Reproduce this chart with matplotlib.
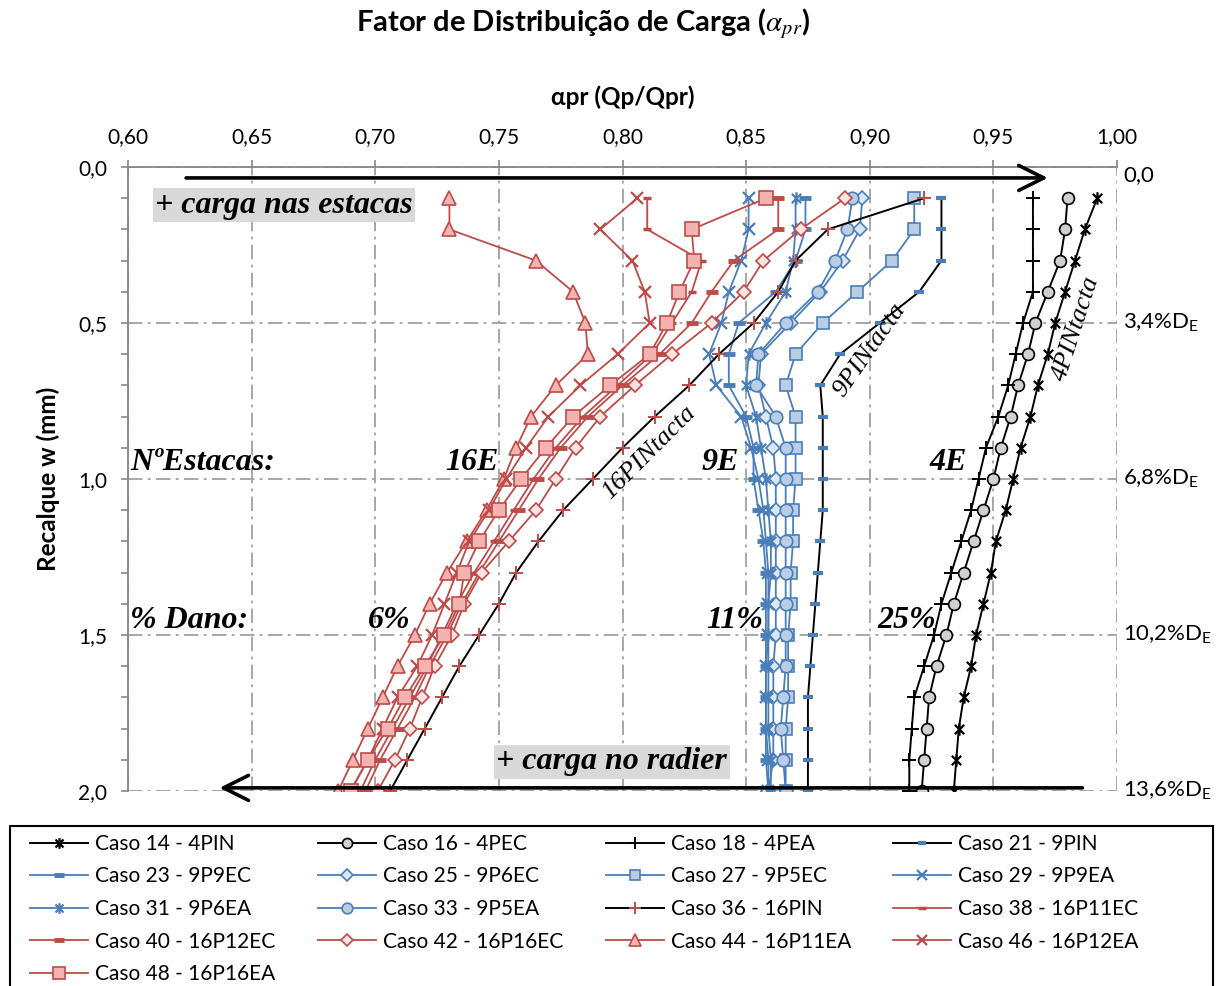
import matplotlib
matplotlib.use('Agg')
import matplotlib.pyplot as plt
from matplotlib.path import Path
from matplotlib.patches import Rectangle
from matplotlib.ticker import FuncFormatter, MultipleLocator

plt.rcParams['font.family'] = ['Lato', 'DejaVu Sans']
plt.rcParams['mathtext.fontset'] = 'stix'

# Recalque w (mm)
recalque = [0.1, 0.2, 0.3, 0.4, 0.5, 0.6, 0.7, 0.8, 0.9, 1.0,
            1.1, 1.2, 1.3, 1.4, 1.5, 1.6, 1.7, 1.8, 1.9, 2.0]

# alpha_pr (Qp/Qpr) por caso
caso14 = [0.992, 0.987, 0.983, 0.979, 0.975, 0.972, 0.968, 0.965, 0.961, 0.958,
          0.955, 0.951, 0.949, 0.946, 0.943, 0.941, 0.938, 0.936, 0.935, 0.934]
caso16 = [0.980, 0.979, 0.977, 0.972, 0.967, 0.964, 0.960, 0.957, 0.953, 0.950,
          0.946, 0.942, 0.938, 0.934, 0.931, 0.927, 0.924, 0.923, 0.922, 0.921]
caso18 = [0.966, 0.966, 0.966, 0.966, 0.962, 0.959, 0.956, 0.952, 0.947, 0.944,
          0.941, 0.937, 0.933, 0.929, 0.926, 0.922, 0.918, 0.917, 0.916, 0.916]
caso21 = [0.929, 0.929, 0.929, 0.920, 0.904, 0.888, 0.880, 0.881, 0.881, 0.881,
          0.881, 0.880, 0.879, 0.878, 0.877, 0.876, 0.875, 0.875, 0.875, 0.875]
caso23 = [0.874, 0.874, 0.870, 0.862, 0.847, 0.843, 0.843, 0.850, 0.853, 0.853,
          0.855, 0.857, 0.858, 0.858, 0.858, 0.858, 0.858, 0.858, 0.858, 0.859]
caso25 = [0.897, 0.896, 0.889, 0.880, 0.868, 0.856, 0.855, 0.858, 0.861, 0.862,
          0.862, 0.862, 0.862, 0.862, 0.862, 0.861, 0.861, 0.861, 0.861, 0.859]
caso27 = [0.918, 0.918, 0.909, 0.895, 0.881, 0.870, 0.866, 0.870, 0.870, 0.870,
          0.869, 0.869, 0.868, 0.868, 0.867, 0.867, 0.867, 0.866, 0.866, 0.866]
caso29 = [0.851, 0.851, 0.848, 0.843, 0.840, 0.835, 0.838, 0.848, 0.852, 0.855,
          0.857, 0.858, 0.859, 0.859, 0.859, 0.858, 0.858, 0.858, 0.859, 0.859]
caso31 = [0.870, 0.870, 0.869, 0.866, 0.858, 0.851, 0.850, 0.854, 0.856, 0.858,
          0.859, 0.860, 0.860, 0.859, 0.859, 0.859, 0.859, 0.859, 0.860, 0.860]
caso33 = [0.893, 0.891, 0.886, 0.879, 0.866, 0.855, 0.854, 0.862, 0.866, 0.866,
          0.866, 0.866, 0.866, 0.866, 0.866, 0.866, 0.865, 0.864, 0.865, 0.866]
caso36 = [0.922, 0.883, 0.870, 0.863, 0.853, 0.839, 0.827, 0.813, 0.800, 0.788,
          0.776, 0.766, 0.757, 0.750, 0.742, 0.734, 0.727, 0.720, 0.713, 0.706]
caso38 = [0.810, 0.810, 0.832, 0.828, 0.820, 0.812, 0.798, 0.784, 0.773, 0.764,
          0.756, 0.748, 0.740, 0.733, 0.727, 0.721, 0.714, 0.707, 0.700, 0.694]
caso40 = [0.863, 0.863, 0.845, 0.836, 0.828, 0.815, 0.800, 0.786, 0.775, 0.766,
          0.758, 0.750, 0.742, 0.735, 0.729, 0.722, 0.716, 0.709, 0.702, 0.696]
caso42 = [0.890, 0.872, 0.857, 0.849, 0.836, 0.820, 0.805, 0.791, 0.781, 0.773,
          0.765, 0.754, 0.743, 0.736, 0.731, 0.724, 0.719, 0.714, 0.708, 0.701]
caso44 = [0.730, 0.730, 0.765, 0.780, 0.785, 0.786, 0.773, 0.763, 0.757, 0.752,
          0.745, 0.737, 0.729, 0.722, 0.716, 0.709, 0.703, 0.697, 0.691, 0.685]
caso46 = [0.806, 0.791, 0.804, 0.809, 0.811, 0.798, 0.783, 0.770, 0.761, 0.753,
          0.746, 0.738, 0.733, 0.728, 0.723, 0.717, 0.709, 0.703, 0.697, 0.690]
caso48 = [0.858, 0.828, 0.829, 0.823, 0.818, 0.811, 0.795, 0.780, 0.769, 0.759,
          0.750, 0.742, 0.736, 0.734, 0.728, 0.720, 0.712, 0.705, 0.697, 0.690]

# rotulos do eixo da direita
rotulos_dir = ['0,0', '3,4%D$\\mathregular{_E}$', '6,8%D$\\mathregular{_E}$',
               '10,2%D$\\mathregular{_E}$', '13,6%D$\\mathregular{_E}$']
pos_dir = [0.025, 0.5, 1.0, 1.5, 2.0]

preto = 'black'
azul = '#4A7EBB'
azul_claro = '#B9CDE5'
verm = '#BE4B48'
verm_claro = '#F4B3B1'

estrela = Path([(0, -1), (0, 1), (-0.75, -0.75), (0.75, 0.75), (-0.75, 0.75), (0.75, -0.75)],
               [Path.MOVETO, Path.LINETO] * 3)

fig = plt.figure(figsize=(12.3, 9.86), dpi=100)
ax = fig.add_axes([128 / 1230, 1 - 791 / 986, 989 / 1230, 624 / 986])

series = [
    (caso14, 'Caso 14 - 4PIN', dict(color=preto, marker=estrela, ms=9, mew=1.6, mfc='none', mec=preto)),
    (caso16, 'Caso 16 - 4PEC', dict(color=preto, marker='o', ms=8.5, mew=1.2, mfc='#D0D0D0', mec=preto)),
    (caso18, 'Caso 18 - 4PEA', dict(color=preto, marker='+', ms=10, mew=1.4, mec=preto)),
    (caso21, 'Caso 21 - 9PIN', dict(color=preto, marker='_', ms=7, mew=3, mec=azul)),
    (caso23, 'Caso 23 - 9P9EC', dict(color=azul, marker='_', ms=8, mew=3.5, mec=azul)),
    (caso25, 'Caso 25 - 9P6EC', dict(color=azul, marker='D', ms=7, mew=1.2, mfc='#DCE6F2', mec=azul)),
    (caso27, 'Caso 27 - 9P5EC', dict(color=azul, marker='s', ms=9, mew=1.2, mfc=azul_claro, mec=azul)),
    (caso29, 'Caso 29 - 9P9EA', dict(color=azul, marker='x', ms=8, mew=1.6, mec=azul)),
    (caso31, 'Caso 31 - 9P6EA', dict(color=azul, marker=estrela, ms=9, mew=1.6, mfc='none', mec=azul)),
    (caso33, 'Caso 33 - 9P5EA', dict(color=azul, marker='o', ms=9, mew=1.2, mfc=azul_claro, mec=azul)),
    (caso36, 'Caso 36 - 16PIN', dict(color=preto, marker='+', ms=10, mew=1.4, mec=verm)),
    (caso38, 'Caso 38 - 16P11EC', dict(color=verm, marker='_', ms=6, mew=2.5, mec=verm)),
    (caso40, 'Caso 40 - 16P12EC', dict(color=verm, marker='_', ms=8, mew=3.5, mec=verm)),
    (caso42, 'Caso 42 - 16P16EC', dict(color=verm, marker='D', ms=7, mew=1.2, mfc='#FBE3E2', mec=verm)),
    (caso44, 'Caso 44 - 16P11EA', dict(color=verm, marker='^', ms=9.5, mew=1.2, mfc=verm_claro, mec=verm)),
    (caso46, 'Caso 46 - 16P12EA', dict(color=verm, marker='x', ms=8.5, mew=1.6, mec=verm)),
    (caso48, 'Caso 48 - 16P16EA', dict(color=verm, marker='s', ms=9.5, mew=1.2, mfc=verm_claro, mec=verm)),
]

linhas = {}
for valores, nome, estilo in series:
    lw = 1.4 if estilo['color'] == preto else 1.3
    ln, = ax.plot(valores, recalque, lw=lw, label=nome, zorder=3, **estilo)
    linhas[int(nome.split()[1])] = ln

ax.set_xlim(0.60, 1.00)
ax.set_ylim(2.0, 0.0)
ax.xaxis.tick_top()
ax.xaxis.set_major_locator(MultipleLocator(0.05))
ax.yaxis.set_major_locator(MultipleLocator(0.5))
ax.yaxis.set_minor_locator(MultipleLocator(0.1))
ax.xaxis.set_major_formatter(FuncFormatter(lambda v, p: f'{v:.2f}'.replace('.', ',')))
ax.yaxis.set_major_formatter(FuncFormatter(lambda v, p: f'{v:.1f}'.replace('.', ',')))
ax.tick_params(axis='x', which='major', direction='out', length=5, width=1.2,
               color='#868686', labelsize=15, pad=9)
ax.tick_params(axis='y', which='both', direction='out', length=5, width=1.2,
               color='#868686', labelsize=15, pad=10)
for s in ['right', 'bottom']:
    ax.spines[s].set_visible(False)
for s in ['left', 'top']:
    ax.spines[s].set_color('#868686')
    ax.spines[s].set_linewidth(1.3)
ax.grid(True, which='major', color='#A0A0A0', lw=1.3, linestyle=(0, (8, 3, 1.5, 3)))
ax.set_axisbelow(True)

# rotulos a direita
for yv, txt in zip(pos_dir, rotulos_dir):
    ax.text(1.006, yv, txt, transform=ax.get_yaxis_transform(), ha='left', va='center',
            fontsize=16, clip_on=False)

fig.text(583 / 1230, 1 - 24 / 986, 'Fator de Distribuição de Carga ($\\alpha_{pr}$)',
         ha='center', va='center', fontsize=21, fontweight='bold')
fig.text(623 / 1230, 1 - 97 / 986, 'αpr (Qp/Qpr)', ha='center', va='center',
         fontsize=17.5, fontweight='bold')
fig.text(48 / 1230, 1 - 479 / 986, 'Recalque w (mm)', ha='center', va='center',
         rotation=90, fontsize=17.5, fontweight='bold')

# setas
ax.annotate('', xy=(0.972, 0.035), xytext=(0.6235, 0.035),
            arrowprops=dict(arrowstyle='->, head_length=0.9, head_width=0.45',
                            lw=2.6, color='black', mutation_scale=20,
                            shrinkA=0, shrinkB=0), annotation_clip=False)
ax.annotate('', xy=(0.637, 1.99), xytext=(0.986, 1.99),
            arrowprops=dict(arrowstyle='->, head_length=0.9, head_width=0.45',
                            lw=2.6, color='black', mutation_scale=20,
                            shrinkA=0, shrinkB=0), annotation_clip=False)

serif = 'Liberation Serif'
caixa = dict(facecolor='#D9D9D9', edgecolor='none', pad=1.5)
ax.text(0.611, 0.122, '+ carga nas estacas', family=serif, style='italic', weight='bold',
        fontsize=23, ha='left', va='center', bbox=caixa, zorder=4)
ax.text(0.749, 1.907, '+ carga no radier', family=serif, style='italic', weight='bold',
        fontsize=23, ha='left', va='center', bbox=caixa, zorder=4)

for xv, yv, txt in [(0.601, 0.946, 'NºEstacas:'), (0.7285, 0.946, '16E'),
                    (0.832, 0.946, '9E'), (0.924, 0.946, '4E'),
                    (0.601, 1.455, '% Dano:'), (0.697, 1.455, '6%'),
                    (0.834, 1.455, '11%'), (0.903, 1.455, '25%')]:
    ax.text(xv, yv, txt, family=serif, style='italic', weight='bold', fontsize=23,
            ha='left', va='center', zorder=4)

for xv, yv, rot, txt in [(0.8105, 0.915, 45, '16PINtacta'),
                         (0.9, 0.587, 55, '9PINtacta'),
                         (0.9835, 0.516, 72, '4PINtacta')]:
    ax.text(xv, yv, txt, family=serif, style='italic', fontsize=19, rotation=rot,
            ha='center', va='center', rotation_mode='anchor', zorder=4)

# legenda: 4 colunas, preenchida por linha como no original
colunas = [[14, 23, 31, 40, 48], [16, 25, 33, 42], [18, 27, 36, 44], [21, 29, 38, 46]]
col_x = [30, 318, 606, 893]
for xc, nums in zip(col_x, colunas):
    hs = [linhas[k] for k in nums]
    fig.legend(hs, [h.get_label() for h in hs], loc='upper left',
               bbox_to_anchor=(xc / 1230, 1 - 834 / 986), frameon=False,
               fontsize=15, handlelength=2.8, handletextpad=0.3, labelspacing=0.6,
               borderpad=0, borderaxespad=0, markerscale=0.85)
fig.patches.append(Rectangle((10 / 1230, -0.05), 1203 / 1230, 1 - 826 / 986 + 0.05,
                             transform=fig.transFigure, fill=False, ec='black', lw=1.5))

fig.savefig('out.png', dpi=100)
